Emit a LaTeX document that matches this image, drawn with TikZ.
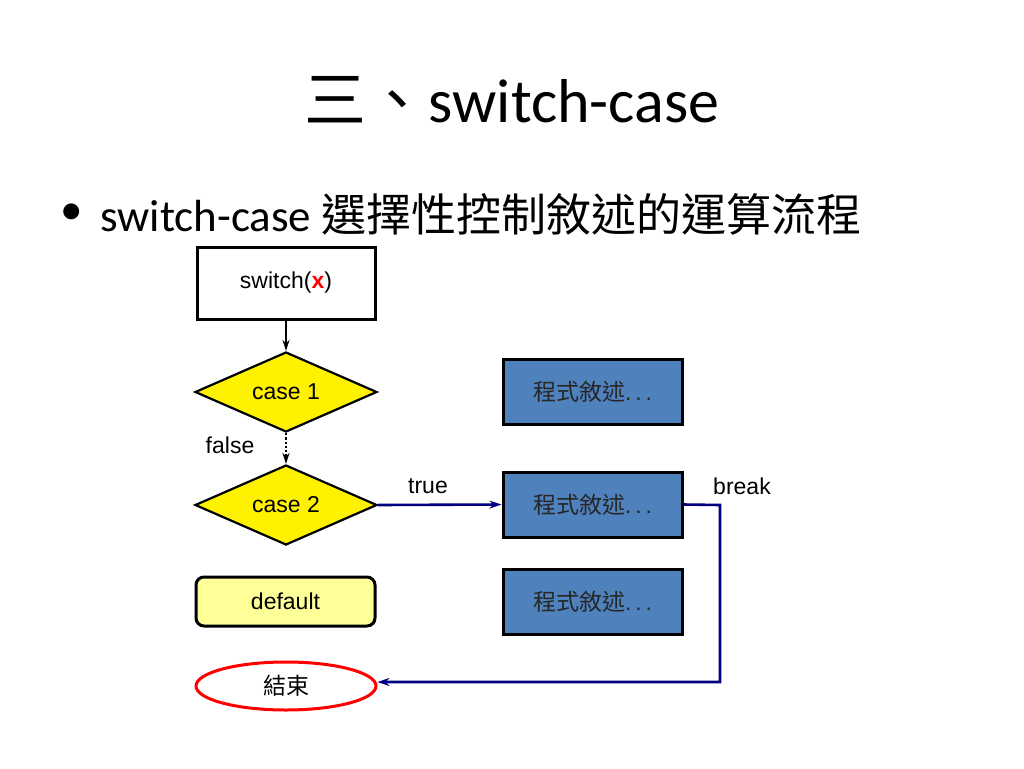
\documentclass[tikz,border=0pt]{standalone}
\usepackage{fontspec}
\setmainfont{Carlito}
\newfontfamily\cjk{Noto Sans CJK TC}
\newfontfamily\lab{Liberation Sans}
\usetikzlibrary{shapes.geometric,arrows.meta}
\definecolor{boxblue}{HTML}{4F81BD}
\definecolor{navyline}{HTML}{000080}
\definecolor{lightyel}{HTML}{FFFF99}
\begin{document}
\begin{tikzpicture}[x=1pt,y=-1pt,
  labfont/.style={font=\lab\fontsize{23}{27}\selectfont},
  flowbox/.style={draw=black,line width=3pt,minimum width=178pt,minimum height=72pt,inner sep=0pt,labfont},
  decide/.style={diamond,aspect=2.275,draw=black,line width=2.2pt,fill=yellow,minimum width=182pt,minimum height=80pt,inner sep=0pt,labfont},
  stmt/.style={draw=black,line width=3pt,fill=boxblue,minimum width=179pt,minimum height=65pt,inner sep=0pt,font=\cjk\fontsize{23}{27}\selectfont,text=black!85},
  dflt/.style={draw=black,line width=3pt,fill=lightyel,rounded corners=8pt,minimum width=179pt,minimum height=49pt,inner sep=0pt,labfont},
  endell/.style={ellipse,draw=red,line width=3pt,fill=white,minimum width=180pt,minimum height=48pt,inner sep=0pt,font=\cjk\fontsize{23}{27}\selectfont},
  lbl/.style={labfont,inner sep=0pt},
  blk/.style={draw=black,line width=2.2pt,-{Stealth[length=11pt,width=7pt]}},
  nav/.style={draw=navyline,line width=2.6pt,-{Stealth[length=12pt,width=8pt]}}
]
\useasboundingbox (0,0) rectangle (1024,768);
\node (title) at (512,100) {\fontsize{62}{70}\selectfont{\cjk 三、}switch-case};
\node[anchor=west,inner sep=0pt] (bullet) at (60,214) {\fontsize{45}{50}\selectfont •};
\node[anchor=west,inner sep=0pt] (sub) at (100,214) {\fontsize{45}{50}\selectfont switch-case {\cjk 選擇性控制敘述的運算流程}};

\node[flowbox] (sw) at (286,283) {switch({\color{red}\textbf{x}})};
\node[decide] (c1) at (286,392) {case 1};
\node[decide] (c2) at (286,505) {case 2};
\node[dflt] (df) at (285.5,601.5) {default};
\node[endell] (end) at (286,686) {結束};
\node[stmt] (s1) at (592.5,391.5) {程式敘述{\lab .\,.\,.}};
\node[stmt] (s2) at (592.5,504.5) {程式敘述{\lab .\,.\,.}};
\node[stmt] (s3) at (592.5,601.5) {程式敘述{\lab .\,.\,.}};
\coordinate (brk) at (720,505);
\coordinate (brkdn) at (720,682);

\draw[blk] (sw.south) -- (c1.north);
\draw[blk,dotted] (c1.south) -- (c2.north);
\node[lbl] (fl) at (230,445) {false};
\draw[nav] (c2.east) -- (s2.west);
\node[lbl] (tr) at (428,486) {true};
\draw[nav] (s2.east) -- (brk) -- (brkdn) -- (end.east |- brkdn);
\node[lbl] (bk) at (742,486) {break};
\end{tikzpicture}
\end{document}
